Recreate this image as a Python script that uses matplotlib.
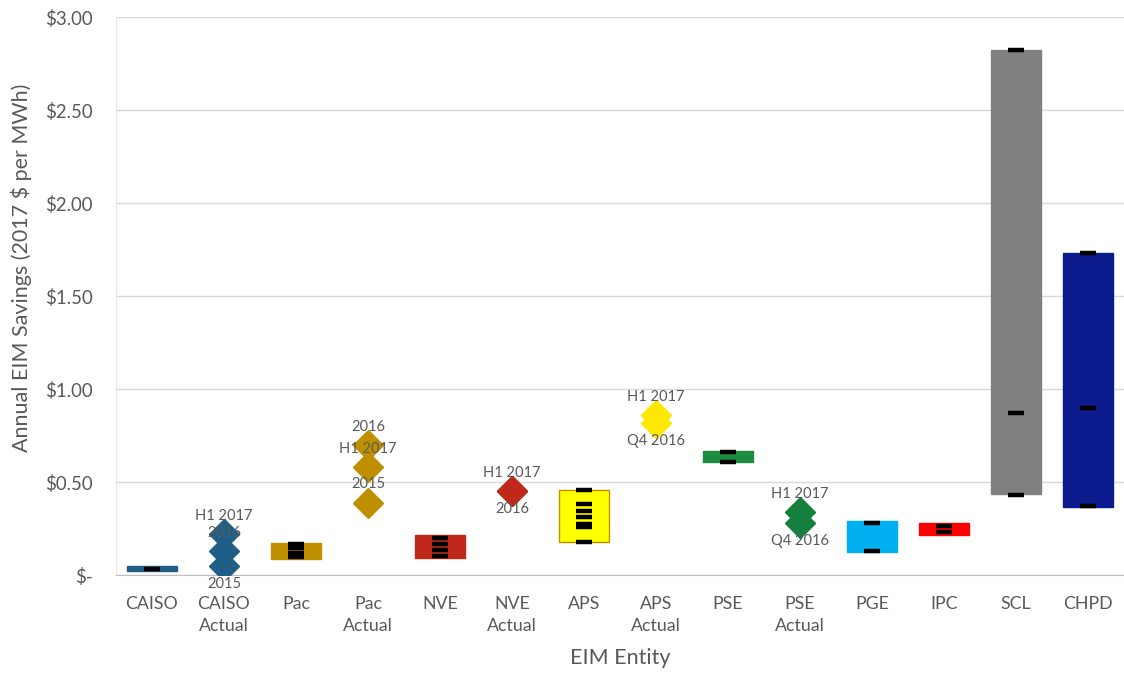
import matplotlib.pyplot as plt
from matplotlib.ticker import FixedLocator

# EIM entities on the x axis
entities = ["CAISO", "CAISO\nActual", "Pac", "Pac\nActual", "NVE", "NVE\nActual",
            "APS", "APS\nActual", "PSE", "PSE\nActual", "PGE", "IPC", "SCL", "CHPD"]

# Range boxes (min, max) for the estimated entities, with the individual estimates
box_idx = [0, 2, 4, 6, 8, 10, 11, 12, 13]
box_low = [0.02, 0.085, 0.09, 0.18, 0.61, 0.125, 0.215, 0.435, 0.365]
box_high = [0.05, 0.17, 0.215, 0.46, 0.665, 0.29, 0.28, 2.82, 1.73]
box_colors = ["#215F88", "#BF8F00", "#C0281A", "#FFFF00", "#1E8C3E",
              "#00B0F0", "#FF0000", "#808080", "#0B1A8C"]
box_points = [
    [0.035],
    [0.095, 0.12, 0.145, 0.165],
    [0.10, 0.135, 0.165, 0.20],
    [0.18, 0.26, 0.275, 0.31, 0.345, 0.38, 0.46],
    [0.61, 0.66],
    [0.13, 0.28],
    [0.23, 0.265],
    [0.43, 0.87, 2.82],
    [0.37, 0.90, 1.73],
]

# Actual results (diamonds) with period labels
act_idx = [1, 3, 5, 7, 9]
act_colors = ["#1F5F87", "#BF8F00", "#C0281A", "#FFE800", "#15803E"]
act_values = [
    [0.05, 0.13, 0.22],
    [0.39, 0.58, 0.70],
    [0.45, 0.45],
    [0.82, 0.86],
    [0.28, 0.34],
]
act_labels = [
    ["2015", "2016", "H1 2017"],
    ["2015", "H1 2017", "2016"],
    ["2016", "H1 2017"],
    ["Q4 2016", "H1 2017"],
    ["Q4 2016", "H1 2017"],
]
# +1 label above the marker, -1 below
act_label_side = [
    [-1, 1, 1],
    [1, 1, 1],
    [-1, 1],
    [-1, 1],
    [-1, 1],
]

yticks = [0, 0.5, 1.0, 1.5, 2.0, 2.5, 3.0]
ytick_labels = ["$-", "$0.50", "$1.00", "$1.50", "$2.00", "$2.50", "$3.00"]

plt.rcParams['font.family'] = ['Lato', 'DejaVu Sans']
text_col = "#595959"

fig = plt.figure(figsize=(11.24, 6.75), dpi=100)
ax = fig.add_axes([0.1032, 0.148, 0.8968, 0.8268])

# floating range boxes
for i, lo, hi, c in zip(box_idx, box_low, box_high, box_colors):
    ax.bar(i, hi - lo, bottom=lo, width=0.7, color=c,
           edgecolor="#BF9000" if c == "#FFFF00" else c, linewidth=1, zorder=2)
# black dashes for each estimate
for i, pts in zip(box_idx, box_points):
    ax.plot([i] * len(pts), pts, linestyle="none", marker="_",
            markersize=11, markeredgewidth=3.2, color="black", zorder=3)

# actual diamonds
for i, vals, c, labs, sides in zip(act_idx, act_values, act_colors,
                                    act_labels, act_label_side):
    ax.plot([i] * len(vals), vals, linestyle="none", marker="D",
            markersize=15, color=c, zorder=3)
    for v, lab, s in zip(vals, labs, sides):
        ax.annotate(lab, (i, v), xytext=(0, 13 * s), textcoords="offset points",
                    ha="center", va="center", fontsize=10.5, color=text_col,
                    zorder=4)

ax.set_xlim(-0.5, len(entities) - 0.5)
ax.set_ylim(0, 3.0)
ax.set_xticks(range(len(entities)))
ax.set_xticklabels(entities, fontsize=12.75, color=text_col, linespacing=1.5)
ax.yaxis.set_major_locator(FixedLocator(yticks))
ax.set_yticklabels(ytick_labels, fontsize=13.4, color=text_col)
ax.tick_params(length=0)
ax.tick_params(axis="x", pad=15)
ax.tick_params(axis="y", pad=17)

ax.grid(axis="y", color="#D9D9D9", linewidth=1, zorder=0)
ax.set_axisbelow(True)
for s in ["top", "right"]:
    ax.spines[s].set_visible(False)
ax.spines["left"].set_color("#E6E6E6")
ax.spines["bottom"].set_color("#BFBFBF")

ax.set_ylabel("Annual EIM Savings (2017 $ per MWh)", fontsize=15.5,
              color=text_col)
ax.yaxis.set_label_coords(-0.083, 0.55)
ax.set_xlabel("EIM Entity", fontsize=15.5, color=text_col, labelpad=10)

fig.savefig("out.png", dpi=100)
